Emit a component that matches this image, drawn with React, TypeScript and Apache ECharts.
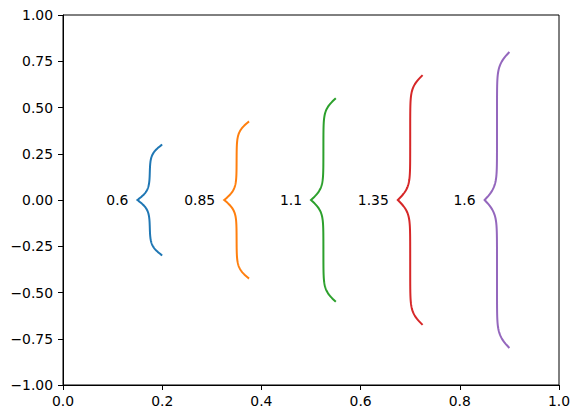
import React, { useEffect, useRef } from "react";
import * as echarts from "echarts";

const braceX = [0.15, 0.325, 0.5, 0.675, 0.85];
const braceCenterY = [0, 0, 0, 0, 0];
const braceHalfHeight = [0.3, 0.425, 0.55, 0.675, 0.8];
const braceWidth = [0.05, 0.05, 0.05, 0.05, 0.05];
const braceLabels = ["0.6", "0.85", "1.1", "1.35", "1.6"];
const braceColors = ["#1f77b4", "#ff7f0e", "#2ca02c", "#d62728", "#9467bd"];

const FONT = "DejaVu Sans";
const FS = 13.9;

function sig(t: number) {
  return 1 / (1 + Math.exp(-t));
}

export default function App() {
  const ref = useRef<HTMLDivElement>(null);
  useEffect(() => {
    if (!ref.current) return;
    const chart = echarts.init(ref.current, undefined, { renderer: "svg" });
    const data = braceX.map((x, i) => [x, braceCenterY[i], braceHalfHeight[i], braceWidth[i]]);
    const renderItem = (params: any, api: any) => {
      const i = params.dataIndex;
      const x0 = api.value(0);
      const yc = api.value(1);
      const h = api.value(2);
      const w = api.value(3);
      const beta = 3 / (0.06 + 0.06 * h);
      const n = 200;
      const pts: number[][] = [];
      for (let k = 0; k <= n; k++) {
        const y = yc - h + (2 * h * k) / n;
        const d = Math.abs(y - yc);
        const xx = x0 + w * (sig(beta * d) + sig(beta * (d - h)) - 0.5);
        pts.push(api.coord([xx, y]));
      }
      const tip = api.coord([x0, yc]);
      return {
        type: "group",
        children: [
          {
            type: "polyline",
            shape: { points: pts },
            style: { stroke: braceColors[i], lineWidth: 2, fill: "none" },
          },
          {
            type: "text",
            x: tip[0] - 9,
            y: tip[1],
            style: {
              text: braceLabels[i],
              fill: "#000",
              font: `${FS}px "${FONT}"`,
              fontSize: FS,
              fontFamily: FONT,
              align: "right",
              textAlign: "right",
              verticalAlign: "middle",
              textVerticalAlign: "middle",
            },
          },
        ],
      };
    };
    const fmtY = (v: number) => {
      const s = Math.abs(v).toFixed(2);
      return v < -1e-9 ? "\u2212" + s : s;
    };
    chart.setOption({
      animation: false,
      backgroundColor: "#fff",
      grid: {
        left: 63,
        top: 15,
        width: 496,
        height: 370,
        show: true,
        borderColor: "#000",
        borderWidth: 1,
        backgroundColor: "transparent",
      },
      xAxis: {
        type: "value",
        min: 0,
        max: 1,
        interval: 0.2,
        splitLine: { show: false },
        axisLine: { show: true, onZero: false, lineStyle: { color: "#000", width: 1 } },
        axisTick: { show: true, inside: false, length: 5, lineStyle: { color: "#000" } },
        axisLabel: {
          color: "#000",
          fontFamily: FONT,
          fontSize: FS,
          margin: 9,
          formatter: (v: number) => v.toFixed(1),
        },
      },
      yAxis: {
        type: "value",
        min: -1,
        max: 1,
        interval: 0.25,
        splitLine: { show: false },
        axisLine: { show: true, onZero: false, lineStyle: { color: "#000", width: 1 } },
        axisTick: { show: true, inside: false, length: 5, lineStyle: { color: "#000" } },
        axisLabel: {
          color: "#000",
          fontFamily: FONT,
          fontSize: FS,
          margin: 10,
          formatter: fmtY,
        },
      },
      series: [
        {
          type: "custom",
          coordinateSystem: "cartesian2d",
          renderItem,
          encode: { x: 0, y: 1 },
          data,
          clip: false,
        },
      ],
    });
    return () => chart.dispose();
  }, []);
  return (
    <div
      ref={ref}
      style={{ position: "fixed", left: 0, top: 0, width: 579, height: 418 }}
    />
  );
}
